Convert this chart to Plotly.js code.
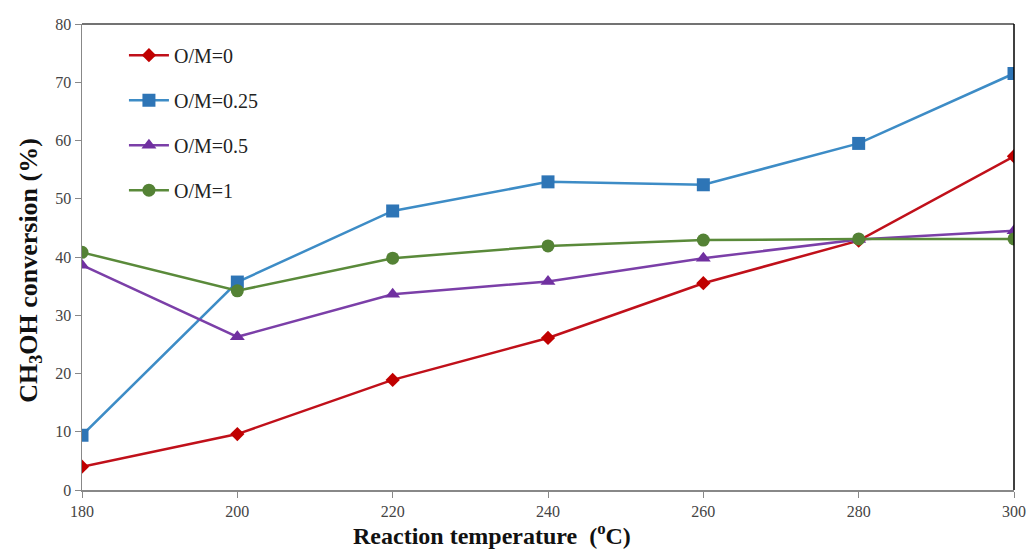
<!DOCTYPE html>
<html>
<head>
<meta charset="utf-8">
<script src="https://cdn.plot.ly/plotly-3.0.1.min.js"></script>
<style>html,body{margin:0;padding:0;background:#fff;}#chart{width:1032px;height:550px;}</style>
</head>
<body>
<div id="chart"></div>
<script>
const temperatures = [180, 200, 220, 240, 260, 280, 300];
const om0 = [4.0, 9.6, 18.9, 26.1, 35.5, 42.8, 57.3];
const om025 = [9.4, 35.7, 47.9, 52.9, 52.4, 59.5, 71.5];
const om05 = [38.6, 26.3, 33.6, 35.8, 39.8, 43.0, 44.5];
const om1 = [40.8, 34.2, 39.8, 41.9, 42.9, 43.1, 43.1];
const seriesNames = ["O/M=0", "O/M=0.25", "O/M=0.5", "O/M=1"];
const xTicks = [180, 200, 220, 240, 260, 280, 300];
const yTicks = [0, 10, 20, 30, 40, 50, 60, 70, 80];
const xTitle = "Reaction temperature  (<sup>o</sup>C)";
const yTitle = "CH<sub>3</sub>OH conversion (%)";

const serif = "Liberation Serif, Times New Roman, serif";
function tr(y, name, color, lineColor, symbol, size, grp) {
  return {
    x: temperatures, y: y, name: name, type: "scatter", mode: "lines+markers",
    line: {color: lineColor, width: 2.5},
    marker: {color: color, symbol: symbol, size: size},
    legendgroup: grp
  };
}
const data = [
  tr(om0, seriesNames[0], "#C00000", "#C0101A", "diamond", 11, "a"),
  tr(om025, seriesNames[1], "#2E75B6", "#3D8CC6", "square", 13, "b"),
  tr(om05, seriesNames[2], "#7030A0", "#7B3FA8", "triangle-up", 13, "c"),
  tr(om1, seriesNames[3], "#548235", "#5A8A3A", "circle", 13, "d")
];
const titleFont = {family: serif, size: 24, color: "#111", weight: "bold"};
const layout = {
  width: 1032, height: 550,
  margin: {l: 82, r: 18, t: 24, b: 60},
  paper_bgcolor: "#fff", plot_bgcolor: "#fff",
  showlegend: true,
  legend: {x: 0.045, y: 0.975, xanchor: "left", yanchor: "top",
    font: {family: serif, size: 20, color: "#222"}, bgcolor: "rgba(0,0,0,0)",
    tracegroupgap: 16, itemwidth: 40},
  xaxis: {
    range: [180, 300], tickvals: xTicks, ticks: "outside", ticklen: 6, tickcolor: "#888",
    showgrid: false, zeroline: false, showline: true, linecolor: "#888", linewidth: 1.5,
    tickfont: {family: serif, size: 16, color: "#444"}
  },
  yaxis: {
    range: [0, 80], tickvals: yTicks, ticks: "outside", ticklen: 6, tickcolor: "#888",
    showgrid: false, zeroline: false, showline: true, linecolor: "#888", linewidth: 1.5,
    tickfont: {family: serif, size: 16, color: "#444"}
  },
  annotations: [
    {text: xTitle, xref: "paper", yref: "paper", x: 0.44, y: -0.095, xanchor: "center", yanchor: "middle",
     showarrow: false, font: titleFont},
    {text: yTitle, xref: "paper", yref: "paper", x: -0.056, y: 0.472, xanchor: "center", yanchor: "middle",
     textangle: -90, showarrow: false, font: {family: serif, size: 26, color: "#111", weight: "bold"}}
  ],
  shapes: [
    {type: "line", xref: "paper", yref: "paper", x0: 0, x1: 1, y0: 1, y1: 1, line: {color: "#444", width: 1.5}},
    {type: "line", xref: "paper", yref: "paper", x0: 1, x1: 1, y0: 0, y1: 1, line: {color: "#000", width: 1.5}}
  ]
};
Plotly.newPlot("chart", data, layout, {displayModeBar: false, staticPlot: true});
</script>
</body>
</html>
